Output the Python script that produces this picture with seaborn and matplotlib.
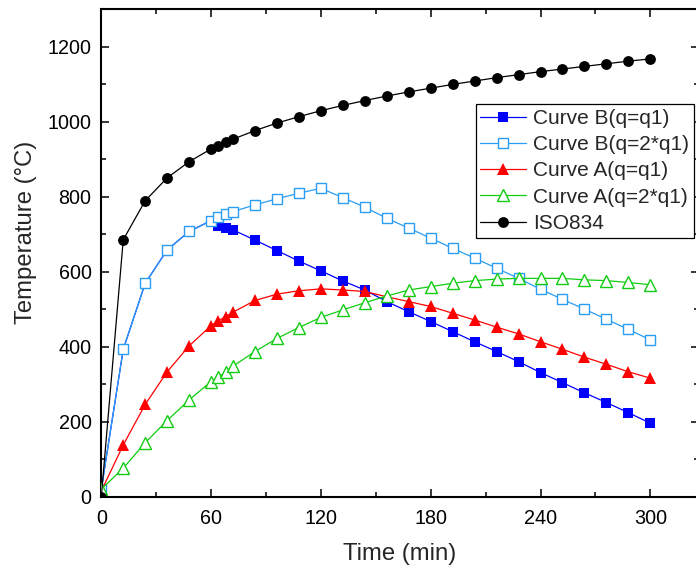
import numpy as np
import pandas as pd
import seaborn as sns
import matplotlib
matplotlib.use("Agg")
import matplotlib.pyplot as plt
from matplotlib.ticker import MultipleLocator

# Time steps (min)
time = [0, 12, 24, 36, 48, 60, 64, 68, 72, 84, 96, 108, 120, 132, 144, 156,
        168, 180, 192, 204, 216, 228, 240, 252, 264, 276, 288, 300]

# Temperatures (°C)
curve_b_q1 = [20, 393, 569, 658, 707, 736, 722, 717, 711, 684, 656, 628, 602,
              575, 551, 520, 493, 467, 440, 413, 387, 360, 331, 304, 277, 251,
              224, 196]
curve_b_2q1 = [20, 393, 569, 658, 707, 736, 745, 753, 760, 778, 794, 809, 822,
               797, 772, 742, 716, 689, 662, 636, 609, 582, 553, 526, 500, 473,
               446, 418]
curve_a_q1 = [15, 138, 246, 333, 402, 456, 469, 480, 492, 523, 540, 549, 554,
              551, 547, 533, 520, 507, 489, 471, 452, 434, 413, 393, 372, 353,
              333, 316]
curve_a_2q1 = [20, 76, 144, 203, 258, 307, 318, 333, 348, 387, 422, 451, 478,
               498, 517, 535, 551, 560, 569, 576, 580, 582, 582, 582, 578, 576,
               571, 565]
iso834 = [0, 685, 789, 850, 893, 927, 936, 945, 953, 976, 996, 1013, 1029,
          1043, 1056, 1068, 1079, 1089, 1099, 1108, 1117, 1125, 1133, 1140,
          1147, 1154, 1161, 1167]

series = [
    ("Curve B(q=q1)", curve_b_q1, "#0000ff", "s", 7.4, True),
    ("Curve B(q=2*q1)", curve_b_2q1, "#2a9df4", "s", 7.4, False),
    ("Curve A(q=q1)", curve_a_q1, "#ff0000", "^", 9.0, True),
    ("Curve A(q=2*q1)", curve_a_2q1, "#11cc11", "^", 9.0, False),
    ("ISO834", iso834, "#000000", "o", 7.8, True),
]

sns.set_theme(style="ticks")
plt.rcParams["font.family"] = ["Liberation Sans", "DejaVu Sans"]

fig = plt.figure(figsize=(6.96, 5.67), dpi=100)
ax = fig.add_axes([101.3 / 696, 70.3 / 567, 597.5 / 696, 487.7 / 567])

for i, (name, vals, color, marker, ms, filled) in enumerate(series):
    df = pd.DataFrame({"Time": time, "Temperature": vals})
    sns.lineplot(
        data=df, x="Time", y="Temperature", ax=ax, label=name,
        color=color, linewidth=0.9, marker=marker, markersize=ms,
        markerfacecolor=color if filled else "white",
        markeredgecolor=color, markeredgewidth=0.0 if filled else 1.0,
        zorder=2 + i,
    )

ax.set_xlim(0, 326.5)
ax.set_ylim(0, 1300)
ax.xaxis.set_major_locator(MultipleLocator(60))
ax.xaxis.set_minor_locator(MultipleLocator(30))
ax.yaxis.set_major_locator(MultipleLocator(200))
ax.yaxis.set_minor_locator(MultipleLocator(100))
ax.tick_params(which="both", direction="in", top=True, right=True,
               width=1.1, colors="black")
ax.tick_params(which="major", length=6, labelsize=14.2)
ax.tick_params(axis="x", which="major", pad=9)
ax.tick_params(axis="y", which="major", pad=7)
ax.tick_params(which="minor", length=3.5)
for sp in ax.spines.values():
    sp.set_linewidth(1.5)
    sp.set_color("black")

ax.set_xlabel("Time (min)", fontsize=17.2, labelpad=11)
ax.set_ylabel("Temperature (°C)", fontsize=17.2)
ax.yaxis.set_label_coords(-0.108, 0.542)

leg = ax.legend(loc="upper left", bbox_to_anchor=(0.6265, 0.8046),
                borderaxespad=0, fontsize=15.0, frameon=True, fancybox=False,
                edgecolor="black", framealpha=1, handlelength=2.2,
                handletextpad=0.35, labelspacing=0.35, borderpad=0.22)
leg.get_frame().set_linewidth(0.9)

fig.savefig("out.png", dpi=100)
